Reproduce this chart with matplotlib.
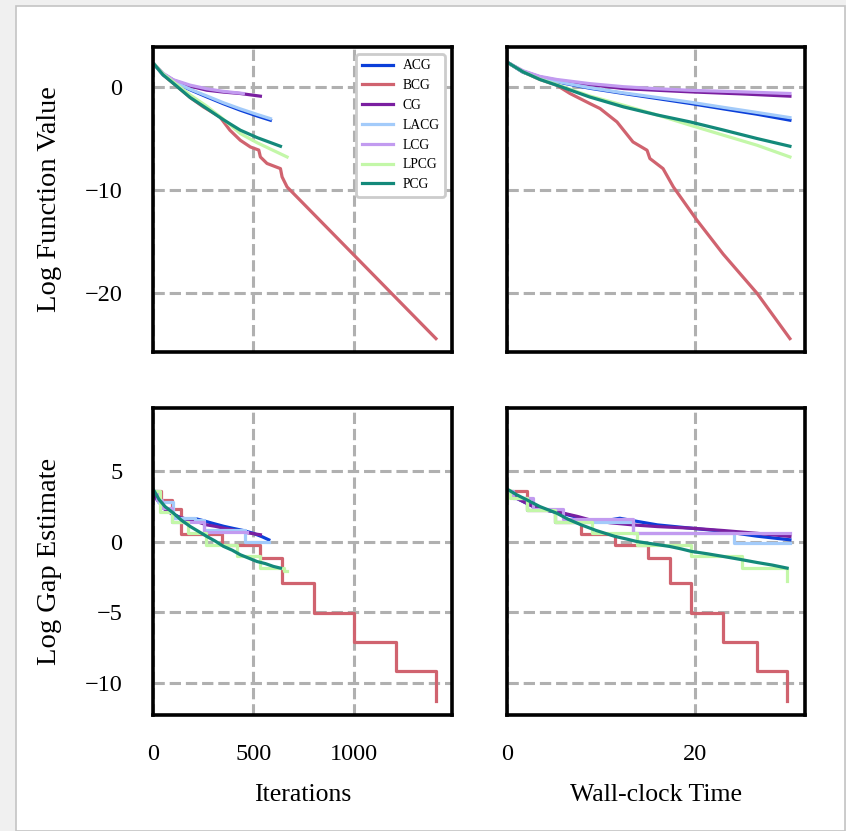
import matplotlib
matplotlib.use("Agg")
import matplotlib.pyplot as plt
from matplotlib.patches import Rectangle

plt.rcParams['font.family'] = 'serif'
plt.rcParams['font.serif'] = ['Liberation Serif', 'DejaVu Serif']

methods = ['ACG', 'BCG', 'CG', 'LACG', 'LCG', 'LPCG', 'PCG']
colors = {
    'ACG': '#0b3fd9', 'BCG': '#d0636f', 'CG': '#7a1fa0', 'LACG': '#a3cbfa',
    'LCG': '#c29bf0', 'LPCG': '#c3f7a8', 'PCG': '#13897a',
}

# --- log function value vs iterations ---
acg_it = [0, 50, 102, 185, 268, 350, 435, 520, 585]
acg_f = [2.36, 1.2, 0.52, -0.25, -0.94, -1.6, -2.23, -2.8, -3.2]
lacg_it = [0, 50, 102, 185, 268, 350, 435, 520, 585]
lacg_f = [2.36, 1.2, 0.55, -0.2, -0.85, -1.5, -2.1, -2.65, -3.05]
cg_it = [0, 50, 102, 185, 268, 350, 435, 535]
cg_f = [2.36, 1.3, 0.68, 0.1, -0.29, -0.47, -0.61, -0.87]
lcg_it = [0, 50, 102, 185, 268, 350, 450]
lcg_f = [2.36, 1.35, 0.72, 0.2, -0.15, -0.4, -0.61]
pcg_it = [0, 50, 102, 185, 268, 350, 435, 520, 635]
pcg_f = [2.36, 1.2, 0.36, -1.0, -2.07, -3.15, -4.17, -4.9, -5.73]
lpcg_it = [0, 50, 102, 185, 268, 350, 435, 520, 668]
lpcg_f = [2.36, 1.3, 0.5, -0.75, -1.85, -3.1, -4.5, -5.4, -6.77]
bcg_it = [0, 50, 102, 185, 250, 333, 383, 435, 485, 527, 535, 568, 635, 643, 668, 1410]
bcg_f = [2.36, 1.2, 0.36, -1.0, -1.9, -2.88, -4.17, -5.15, -5.8, -6.1, -6.77,
         -7.4, -7.9, -8.7, -9.68, -24.4]

# --- log function value vs wall-clock time ---
acg_t = [0.14, 1.7, 3.5, 5.3, 8.8, 12.4, 16, 19.5, 23, 26.6, 30.1]
acg_ft = [2.36, 1.45, 0.9, 0.52, -0.1, -0.61, -1.1, -1.58, -2.1, -2.62, -3.2]
lacg_t = [0.14, 1.7, 3.5, 5.3, 8.8, 12.4, 16, 19.5, 23, 26.6, 30.1]
lacg_ft = [2.36, 1.5, 0.95, 0.55, -0.05, -0.55, -1.0, -1.45, -1.95, -2.45, -2.95]
cg_t = [0.14, 1.7, 3.5, 5.3, 8.8, 12.4, 16, 19.5, 25, 30.1]
cg_ft = [2.36, 1.55, 1.0, 0.68, 0.25, -0.13, -0.3, -0.45, -0.65, -0.87]
lcg_t = [0.14, 1.7, 3.5, 5.3, 8.8, 12.4, 16, 19.5, 25, 30.1]
lcg_ft = [2.36, 1.6, 1.05, 0.75, 0.35, 0.05, -0.15, -0.3, -0.45, -0.61]
pcg_t = [0.14, 1.7, 3.5, 5.3, 8.8, 12.4, 16, 19.5, 23, 26.6, 30.1]
pcg_ft = [2.36, 1.49, 0.75, 0.19, -0.95, -1.91, -2.7, -3.37, -4.15, -4.98, -5.73]
lpcg_t = [0.14, 1.7, 3.5, 5.3, 8.8, 12.4, 16, 19.5, 23, 26.6, 30.1]
lpcg_ft = [2.36, 1.49, 0.78, 0.25, -0.85, -1.75, -2.7, -3.69, -4.65, -5.63, -6.77]
bcg_t = [0.14, 1.7, 3.5, 5.3, 6.7, 8.8, 9.9, 11.7, 13.4, 14.9, 15.2, 16.6, 17.7,
         20.2, 23.0, 26.6, 30.1]
bcg_ft = [2.36, 1.49, 0.75, 0.19, -0.61, -1.58, -2.07, -3.37, -5.31, -6.12, -6.92,
          -7.9, -9.68, -12.9, -16.2, -20.0, -24.4]

# --- log gap estimate vs iterations ---
acg_git = [0, 20, 60, 102, 140, 185, 218, 250, 300, 352, 400, 450, 500, 545, 577]
acg_g = [3.6, 3.0, 2.3, 1.95, 1.7, 1.55, 1.62, 1.5, 1.3, 1.1, 0.95, 0.8, 0.6, 0.35, 0.14]
cg_git = [0, 20, 60, 102, 140, 185, 230, 268, 310, 352, 395, 435, 480, 535]
cg_g = [3.6, 3.0, 2.3, 1.9, 1.7, 1.56, 1.38, 1.2, 1.1, 0.97, 0.85, 0.73, 0.62, 0.5]
pcg_git = [0, 10, 30, 60, 102, 140, 185, 225, 268, 310, 352, 395, 435, 475, 518,
           560, 600, 635]
pcg_g = [3.75, 3.5, 3.0, 2.5, 2.03, 1.55, 1.09, 0.75, 0.38, 0.05, -0.33, -0.6,
         -0.92, -1.15, -1.40, -1.55, -1.75, -1.87]
# step-shaped series
lcg_git = [0, 20, 43, 93, 252, 468]
lcg_g = [3.6, 3.0, 2.4, 1.44, 0.73, 0.73]
lacg_git = [0, 25, 100, 210, 252, 460, 577]
lacg_g = [3.6, 2.8, 1.7, 1.56, 0.85, -0.05, -0.05]
lpcg_git = [0, 35, 95, 175, 265, 418, 535, 652, 668]
lpcg_g = [3.6, 2.15, 1.44, 0.61, -0.21, -1.04, -1.87, -2.1, -2.1]
bcg_git = [0, 40, 93, 138, 343, 535, 643, 802, 1002, 1210, 1410]
bcg_g = [3.6, 3.0, 2.32, 0.55, -0.25, -1.16, -2.93, -5.06, -7.14, -9.2, -11.3]

# --- log gap estimate vs wall-clock time ---
acg_gt = [0.14, 1.0, 2.8, 4.5, 6.0, 8.8, 10.5, 12.0, 13.4, 16, 19.5, 23, 25, 26.6, 30.1]
acg_gv = [3.6, 3.1, 2.5, 2.2, 2.0, 1.5, 1.5, 1.67, 1.5, 1.2, 0.97, 0.75, 0.55, 0.4, 0.14]
cg_gt = [0.14, 1.0, 2.8, 4.5, 6.0, 7.5, 8.8, 11, 13.4, 16, 19.5, 23, 26.6, 30.1]
cg_gv = [3.6, 3.1, 2.5, 2.2, 2.03, 1.8, 1.56, 1.35, 1.2, 1.08, 0.97, 0.8, 0.6, 0.38]
pcg_gt = [0.14, 1.0, 2.1, 3.5, 5.3, 6.5, 7.9, 9.5, 11.5, 12.7, 13.8, 15.5, 17.3,
          18.5, 19.6, 21.3, 23.0, 24.8, 26.6, 28.2, 29.8]
pcg_gv = [3.69, 3.35, 2.98, 2.5, 2.03, 1.6, 1.2, 0.8, 0.38, 0.2, 0.02, -0.15, -0.33,
          -0.5, -0.68, -0.85, -1.04, -1.25, -1.47, -1.65, -1.87]
lcg_gt = [0.14, 0.6, 2.8, 6.0, 13.4, 30.1]
lcg_gv = [3.6, 3.1, 2.35, 1.6, 0.61, 0.61]
lacg_gt = [0.14, 0.6, 2.1, 5.1, 13.4, 24.1, 30.1]
lacg_gv = [3.6, 3.1, 2.27, 1.44, 0.65, -0.1, -0.1]
lpcg_gt = [0.14, 0.3, 2.1, 5.1, 9.0, 13.8, 19.6, 25.0, 29.8]
lpcg_gv = [3.7, 3.1, 2.27, 1.44, 0.61, -0.21, -1.04, -1.87, -2.81]
bcg_gt = [0.14, 2.1, 5.1, 7.9, 11.5, 15.0, 17.3, 19.6, 23.0, 26.6, 29.8]
bcg_gv = [3.6, 2.27, 1.44, 0.55, -0.25, -1.16, -2.93, -5.06, -7.14, -9.2, -11.3]

func_iter = {'ACG': (acg_it, acg_f), 'BCG': (bcg_it, bcg_f), 'CG': (cg_it, cg_f),
             'LACG': (lacg_it, lacg_f), 'LCG': (lcg_it, lcg_f),
             'LPCG': (lpcg_it, lpcg_f), 'PCG': (pcg_it, pcg_f)}
func_time = {'ACG': (acg_t, acg_ft), 'BCG': (bcg_t, bcg_ft), 'CG': (cg_t, cg_ft),
             'LACG': (lacg_t, lacg_ft), 'LCG': (lcg_t, lcg_ft),
             'LPCG': (lpcg_t, lpcg_ft), 'PCG': (pcg_t, pcg_ft)}
gap_iter = {'ACG': (acg_git, acg_g), 'BCG': (bcg_git, bcg_g), 'CG': (cg_git, cg_g),
            'LACG': (lacg_git, lacg_g), 'LCG': (lcg_git, lcg_g),
            'LPCG': (lpcg_git, lpcg_g), 'PCG': (pcg_git, pcg_g)}
gap_time = {'ACG': (acg_gt, acg_gv), 'BCG': (bcg_gt, bcg_gv), 'CG': (cg_gt, cg_gv),
            'LACG': (lacg_gt, lacg_gv), 'LCG': (lcg_gt, lcg_gv),
            'LPCG': (lpcg_gt, lpcg_gv), 'PCG': (pcg_gt, pcg_gv)}
step_series = {'BCG', 'LCG', 'LACG', 'LPCG'}

fig, axes = plt.subplots(2, 2, figsize=(8.46, 8.31), dpi=100, sharex='col', sharey='row')
fig.patch.set_facecolor('#f0f0f0')
fig.patches.append(Rectangle((16 / 846, 0), 829 / 846, 825 / 831, transform=fig.transFigure,
                             facecolor='white', edgecolor='#c4c4c4', lw=1.2, zorder=-10))

# axes placement (figure fractions)
axes[0, 0].set_position([0.1809, 0.5764, 0.3534, 0.3670])
axes[0, 1].set_position([0.5993, 0.5764, 0.3522, 0.3670])
axes[1, 0].set_position([0.1809, 0.1396, 0.3534, 0.3694])
axes[1, 1].set_position([0.5993, 0.1396, 0.3522, 0.3694])

panels = [(axes[0, 0], func_iter, False), (axes[0, 1], func_time, False),
          (axes[1, 0], gap_iter, True), (axes[1, 1], gap_time, True)]

for ax, data, is_gap in panels:
    for m in methods:
        x, y = data[m]
        ds = 'steps-post' if (is_gap and m in step_series) else 'default'
        ax.plot(x, y, color=colors[m], lw=2.3, label=m, drawstyle=ds)
    ax.set_facecolor('white')
    ax.set_axisbelow(True)
    ax.grid(True, color='#b0b0b0', ls='--', lw=2.2)
    for s in ax.spines.values():
        s.set_color('black')
        s.set_linewidth(2.6)
    ax.tick_params(length=0, labelsize=17.5)
    ax.tick_params(axis='x', pad=21)
    ax.tick_params(axis='y', pad=22)

axes[0, 0].set_xlim(0, 1490)
axes[0, 0].set_xticks([0, 500, 1000])
axes[0, 1].set_xlim(0, 31.7)
axes[0, 1].set_xticks([0, 20])
axes[0, 0].set_ylim(-25.7, 3.9)
axes[0, 0].set_yticks([0, -10, -20])
axes[1, 0].set_ylim(-12.3, 9.5)
axes[1, 0].set_yticks([5, 0, -5, -10])

axes[0, 0].set_ylabel('Log Function Value', fontsize=20.5)
axes[1, 0].set_ylabel('Log Gap Estimate', fontsize=20.5)
axes[0, 0].yaxis.set_label_coords(-0.305, 0.5)
axes[1, 0].yaxis.set_label_coords(-0.305, 0.5)
axes[1, 0].set_xlabel('Iterations', fontsize=18.5)
axes[1, 1].set_xlabel('Wall-clock Time', fontsize=18.5)
axes[1, 0].xaxis.set_label_coords(0.5, -0.225)
axes[1, 1].xaxis.set_label_coords(0.5, -0.225)

leg = axes[0, 0].legend(loc='upper right', fontsize=9.8, handlelength=2.3,
                        handletextpad=0.7, labelspacing=0.5, borderaxespad=0.5,
                        fancybox=True, framealpha=1.0)
leg.get_frame().set_edgecolor('#cccccc')
leg.get_frame().set_linewidth(2.0)

plt.savefig('out.png', dpi=100, facecolor=fig.get_facecolor())
